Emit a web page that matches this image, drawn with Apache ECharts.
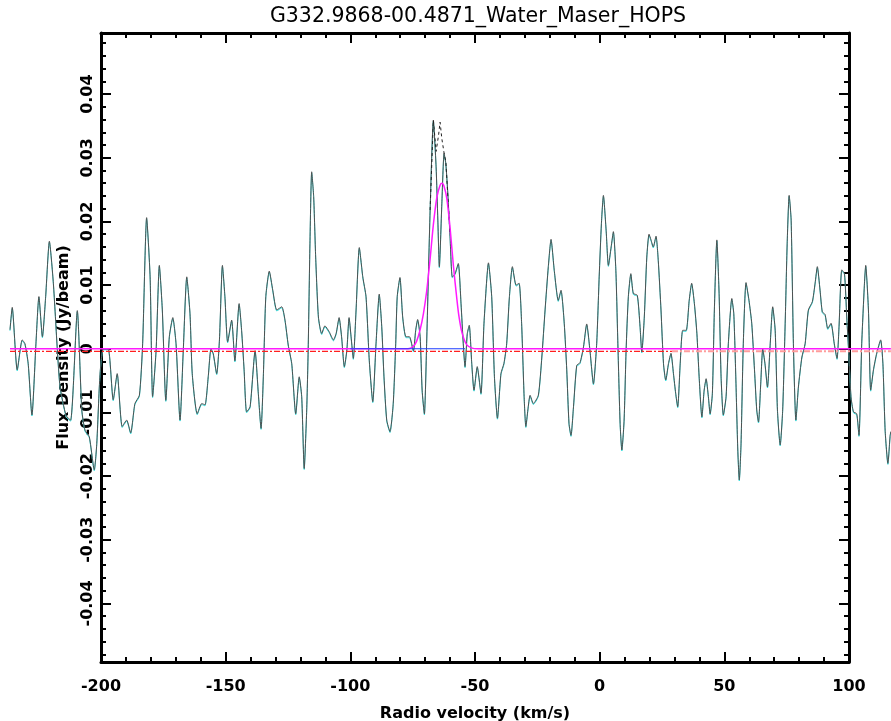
<!DOCTYPE html>
<html><head><meta charset="utf-8">
<script src="https://cdn.jsdelivr.net/npm/echarts@6.0.0/dist/echarts.min.js"></script>
<style>html,body{margin:0;padding:0;background:#fff}#chart{width:891px;height:721px}</style>
</head><body><div id="chart"></div>
<script>
// ---- Data ----
const titleText = 'G332.9868-00.4871_Water_Maser_HOPS';
const xName = 'Radio velocity (km/s)';
const yName = 'Flux Density (Jy/beam)';
const xTickLabels = ['-200','-150','-100','-50','0','50','100'];
const yTickValues = [-0.04,-0.03,-0.02,-0.01,0,0.01,0.02,0.03,0.04];
const yTickLabels = ['-0.04','-0.03','-0.02','-0.01','0','0.01','0.02','0.03','0.04'];
const xRange = [-200, 100];
const yRange = [-0.0492, 0.0496];

// Observed spectrum (km/s, Jy/beam)
const velocity = [
-236.5,-235.6,-233.6,-231.6,-230.5,-229.2,-227.7,-226.1,-224.9,-223.5,-222.2,-220.7,-219.1,-217.5,-216.4,-214.0,-212.2,-209.5,-207.7,-206.4,
-204.7,-202.7,-201.7,-200.4,-199.1,-197.1,-195.1,-193.5,-191.5,-189.7,-188.1,-186.4,-184.6,-183.3,-181.7,-180.3,-179.3,-177.9,-176.6,-175.4,
-174.0,-172.6,-171.2,-169.9,-168.3,-167.0,-165.6,-164.3,-163.4,-161.4,-159.6,-158.3,-157.0,-155.9,-155.0,-153.6,-152.5,-151.3,-150.3,-149.2,
-147.6,-146.3,-144.6,-143.6,-142.6,-141.6,-140.2,-138.2,-136.9,-135.8,-134.9,-133.9,-132.5,-131.1,-129.5,-127.5,-126.2,-124.9,-123.5,-121.9,
-120.5,-119.5,-118.5,-117.5,-116.9,-116.2,-115.5,-114.7,-113.9,-112.8,-111.5,-110.2,-108.5,-106.8,-105.7,-104.5,-103.5,-102.4,-101.4,-100.5,
-99.7,-98.8,-97.7,-96.4,-95.0,-93.7,-92.4,-91.0,-89.7,-88.4,-87.4,-86.5,-85.4,-84.1,-82.8,-81.8,-81.2,-80.1,-79.0,-77.7,
-76.3,-74.7,-73.8,-73.0,-72.0,-71.2,-70.3,-69.4,-68.0,-66.7,-65.6,-64.9,-64.3,-63.3,-62.4,-61.7,-60.9,-60.0,-59.1,-58.0,
-56.7,-55.6,-54.7,-54.0,-53.1,-52.3,-51.3,-50.4,-49.1,-47.6,-46.4,-44.6,-43.3,-42.2,-41.0,-39.6,-38.4,-37.3,-36.2,-35.0,
-33.5,-32.3,-31.3,-30.3,-29.6,-28.8,-27.9,-26.6,-24.6,-23.2,-21.9,-20.6,-19.5,-18.2,-16.6,-15.5,-14.2,-13.2,-12.3,-11.5,
-10.5,-9.2,-7.9,-6.5,-5.2,-3.9,-2.5,-1.2,-0.2,0.7,1.5,2.6,3.5,4.6,5.5,6.5,7.3,8.2,8.9,9.8,
10.6,11.5,12.5,13.5,15.1,16.2,16.9,17.9,18.9,19.8,20.6,21.5,22.6,23.5,24.6,25.6,26.5,27.6,28.6,29.6,
30.5,31.3,32.3,33.3,34.7,35.9,36.9,38.0,39.0,39.9,41.0,41.9,42.7,43.6,44.3,45.2,46.0,47.0,47.9,48.7,
49.6,50.7,51.6,53.0,53.8,54.6,55.4,56.0,56.7,57.6,58.7,59.9,61.0,62.1,63.0,63.7,64.6,65.4,66.3,67.3,
68.4,69.4,70.4,71.3,72.4,73.4,74.4,75.2,76.0,76.8,77.7,78.7,79.7,81.1,82.4,83.7,85.3,86.4,87.3,88.4,
89.3,90.4,91.5,92.8,94.1,95.2,96.0,97.1,98.2,99.1,100.0,100.8,101.8,103.1,104.0,105.1,106.2,106.7,107.8,108.7,
109.8,111.1,112.7,113.6,114.5,115.6,116.5,116.8
];
const flux = [
0.003,0.0065,-0.0033,0.0014,0.0008,-0.0023,-0.0104,0.0008,0.0082,0.0019,0.0082,0.0169,0.0103,-0.0002,-0.006,-0.0105,-0.0112,0.006,-0.0096,-0.0128,
-0.0138,-0.019,-0.0149,-0.004,0,0,-0.008,-0.0039,-0.0122,-0.0112,-0.0132,-0.0086,-0.0073,0.0008,0.0206,0.0113,-0.0075,-0.0002,0.0131,0.0061,
-0.0081,0.0019,0.0049,0.0008,-0.0112,-0.0002,0.0113,0.0055,-0.0039,-0.0102,-0.0086,-0.0088,-0.0044,0,-0.0007,-0.0039,0.0014,0.0131,0.0082,0.0011,
0.0045,-0.0019,0.0071,0.0029,-0.0033,-0.0099,-0.0091,-0.0003,-0.007,-0.0125,-0.0044,0.0082,0.0122,0.0092,0.0061,0.0066,0.0045,0.0006,-0.0023,-0.0102,
-0.0044,-0.0075,-0.0188,-0.0096,0,0.0165,0.0278,0.0239,0.0144,0.005,0.0024,0.0036,0.0027,0.0014,0.0024,0.0049,0.0019,-0.0028,-0.0002,0.0049,
0.0019,-0.0015,0.0061,0.0159,0.0113,0.0082,-0.0018,-0.0083,0.0008,0.0086,0.0035,-0.0044,-0.0112,-0.013,-0.0086,0.0008,0.0082,0.0112,0.005,0.0019,
0.0019,-0.0003,0.0029,0.0046,0.0019,-0.0065,-0.0102,0.0008,0.0218,0.0359,0.0286,0.0202,0.0129,0.0228,0.0307,0.0291,0.0244,0.0176,0.0113,0.0118,
0.0134,0.0071,0.0008,-0.0028,0.0024,0.0037,-0.0023,-0.0065,-0.0028,-0.007,0.004,0.0135,0.0082,-0.0044,-0.0109,-0.0039,-0.0023,0.0008,0.0082,0.0129,
0.01,0.0103,0.004,-0.0075,-0.0122,-0.0096,-0.0073,-0.0086,-0.0073,-0.0013,0.0061,0.0129,0.0172,0.0123,0.0076,0.0092,0.004,-0.0033,-0.0117,-0.0136,
-0.0091,-0.0026,-0.0022,0.0003,0.0039,-0.0002,-0.0055,0.0008,0.0113,0.0197,0.0241,0.0186,0.0131,0.016,0.0184,0.0123,0.0008,-0.0117,-0.0159,-0.0112,
-0.0002,0.0082,0.0118,0.0087,0.0084,0.0035,-0.0005,0.005,0.0144,0.018,0.0171,0.016,0.0177,0.0139,0.0061,-0.0023,-0.0049,-0.0023,-0.0007,-0.0039,
-0.007,-0.0091,-0.0023,0.0029,0.0029,0.0076,0.0103,0.0071,0.0024,-0.0044,-0.0107,-0.0065,-0.0047,-0.0075,-0.0102,-0.007,0.0061,0.0171,0.0087,-0.0044,
-0.0104,-0.0075,0.0008,0.0079,0.0055,-0.0044,-0.0159,-0.0206,-0.0149,0.0008,0.0104,0.0076,0.004,-0.0033,-0.0096,-0.0115,-0.0054,0,-0.0023,-0.006,
0.0008,0.0066,0.0029,-0.0096,-0.0151,-0.0096,0.004,0.0165,0.0241,0.0202,0.0008,-0.0112,-0.006,-0.0013,0.0008,0.0061,0.0074,0.0103,0.0129,0.0092,
0.0058,0.0054,0.0032,0.004,0.0008,-0.0015,0.0035,0.0124,0.0118,0.005,-0.0013,-0.0075,-0.0099,-0.0102,-0.0136,0.0008,0.0103,0.0131,0.0061,-0.0065,
-0.0033,-0.0007,0.0014,-0.0023,-0.0128,-0.018,-0.0136,-0.013
];

// Dashed (unsmoothed) spectrum near the peak
const peakVelocity = [-68.0,-66.7,-65.6,-64.6,-64.0,-63.3,-62.3,-61.7,-61.2,-60.6,-60.0];
const peakFlux     = [0.0218,0.0359,0.031,0.0336,0.0356,0.033,0.0305,0.0294,0.026,0.022,0.018];

// Gaussian fit (magenta)
const fitVelocity = [-236.5,-76.9,-74.7,-73.4,-72.0,-70.7,-69.4,-68.0,-66.7,-65.3,-64.0,-63.2,-62.4,-61.3,-60.0,-58.7,-57.3,-56.4,-55.2,-53.3,-51.2,-49.0,116.8];
const fitFlux     = [0,0,0.0004,0.0012,0.003,0.0055,0.009,0.0141,0.0195,0.0238,0.0257,0.026,0.0255,0.0236,0.019,0.0132,0.0079,0.005,0.0025,0.0006,0.0001,0,0];

// Baseline window (blue)
const baseVelocity = [-100.0,-54.0];
const baseFlux = [0,0];

// Dash-dot reference levels
const redVelocity = [-236.5, 29.0];
const redFlux = [-0.0004, -0.0004];
const pinkVelocity = [29.0, 116.8];
const pinkFlux = [-0.0004, -0.0004];

function pairs(xs, ys){ return xs.map((x,i)=>[x, ys[i]]); }

// ---- layout ----
const W = 891;
const PLOT = {left:101, right:42, top:33, bottom:59};
const pxPerUnit = (W - PLOT.left - PLOT.right) / (xRange[1] - xRange[0]);
// data grid spans the whole canvas width with the same km/s scale, so the
// spectrum can run past the frame like in the reference
const dataX = [xRange[0] - PLOT.left / pxPerUnit, xRange[1] + PLOT.right / pxPerUnit];

// minor ticks: 5 subdivisions of each major step
const yStep = yTickValues[1]-yTickValues[0];
const yMinor = [];
for (let i = -1; i < yTickValues.length; i++) {
  const base = i < 0 ? yTickValues[0]-yStep : yTickValues[i];
  for (let k = 1; k < 5; k++) {
    const v = +(base + k*yStep/5).toFixed(4);
    if (v > yRange[0] && v < yRange[1]) yMinor.push(v);
  }
}

const FONT = 'DejaVu Sans';
const chart = echarts.init(document.getElementById('chart'), null, {renderer:'canvas'});

const hiddenX = (g)=>({type:'value', gridIndex:g, min:dataX[0], max:dataX[1], show:false, axisLine:{onZero:false}});
const hiddenY = (g)=>({type:'value', gridIndex:g, min:yRange[0], max:yRange[1], show:false, axisLine:{onZero:false}});

const lineBase = {type:'line', showSymbol:false, symbol:'none', clip:false, silent:true, smooth:false};

chart.setOption({
  animation:false,
  backgroundColor:'#ffffff',
  title:{
    text:titleText, left:473, top:1, textAlign:'center',
    textStyle:{fontFamily:FONT, fontSize:20.5, fontWeight:'normal', color:'#000'}
  },
  grid:[
    {left:PLOT.left, right:PLOT.right, top:PLOT.top, bottom:PLOT.bottom, containLabel:false, outerBoundsMode:'none'},
    {left:0, right:0, top:PLOT.top, bottom:PLOT.bottom, containLabel:false, outerBoundsMode:'none'},
    {left:0, right:0, top:PLOT.top+1, bottom:PLOT.bottom-1, containLabel:false, outerBoundsMode:'none'}
  ],
  xAxis:[
    {type:'value', gridIndex:0, position:'bottom', min:xRange[0], max:xRange[1], interval:50,
     axisLine:{show:true, onZero:false, lineStyle:{color:'#000', width:3}},
     axisTick:{show:true, inside:true, length:10, lineStyle:{color:'#000', width:2}},
     minorTick:{show:true, splitNumber:5, length:5, lineStyle:{color:'#000', width:2}},
     splitLine:{show:false},
     axisLabel:{show:true, margin:17, color:'#000', fontFamily:FONT, fontSize:16, fontWeight:'bold',
       formatter:(v)=>{const i=Math.round((v-xRange[0])/50); return xTickLabels[i] ?? '';}},
     name:xName, nameLocation:'middle', nameGap:44,
     nameTextStyle:{fontFamily:FONT, fontSize:16, fontWeight:'bold', color:'#000'}},
    {type:'value', gridIndex:0, position:'top', min:xRange[0], max:xRange[1], interval:50,
     axisLine:{show:true, onZero:false, lineStyle:{color:'#000', width:3}},
     axisTick:{show:true, inside:true, length:10, lineStyle:{color:'#000', width:2}},
     minorTick:{show:true, splitNumber:5, length:5, lineStyle:{color:'#000', width:2}},
     splitLine:{show:false}, axisLabel:{show:false}},
    hiddenX(1),
    hiddenX(2)
  ],
  yAxis:[
    {type:'value', gridIndex:0, position:'left', min:yRange[0], max:yRange[1],
     axisLine:{show:true, onZero:false, lineStyle:{color:'#000', width:3}},
     axisTick:{show:true, inside:true, length:10, customValues:yTickValues, lineStyle:{color:'#000', width:2}},
     splitLine:{show:false},
     axisLabel:{show:true, customValues:yTickValues, rotate:90, margin:5, color:'#000',
       fontFamily:FONT, fontSize:16, fontWeight:'bold',
       formatter:(v)=>{const i=yTickValues.findIndex(t=>Math.abs(t-v)<1e-9); return i>=0?yTickLabels[i]:'';}},
     name:yName, nameLocation:'middle', nameGap:29,
     nameTextStyle:{fontFamily:FONT, fontSize:16, fontWeight:'bold', color:'#000'}},
    {type:'value', gridIndex:0, position:'right', min:yRange[0], max:yRange[1],
     axisLine:{show:true, onZero:false, lineStyle:{color:'#000', width:3}},
     axisTick:{show:true, inside:true, length:10, customValues:yTickValues, lineStyle:{color:'#000', width:2}},
     splitLine:{show:false}, axisLabel:{show:false}},
    {type:'value', gridIndex:0, position:'left', min:yRange[0], max:yRange[1],
     axisLine:{show:false, onZero:false},
     axisTick:{show:true, inside:true, length:5, customValues:yMinor, lineStyle:{color:'#000', width:2}},
     splitLine:{show:false}, axisLabel:{show:false}},
    {type:'value', gridIndex:0, position:'right', min:yRange[0], max:yRange[1],
     axisLine:{show:false, onZero:false},
     axisTick:{show:true, inside:true, length:5, customValues:yMinor, lineStyle:{color:'#000', width:2}},
     splitLine:{show:false}, axisLabel:{show:false}},
    hiddenY(1),
    hiddenY(2)
  ],
  series:[
    Object.assign({}, lineBase, {name:'cyan', xAxisIndex:3, yAxisIndex:5, data:pairs(velocity, flux),
     smooth:0.2, lineStyle:{color:'#22dada', width:1}, z:1}),
    Object.assign({}, lineBase, {name:'spectrum', xAxisIndex:2, yAxisIndex:4, data:pairs(velocity, flux),
     smooth:0.2, lineStyle:{color:'#505050', width:1}, z:2}),
    Object.assign({}, lineBase, {name:'raw peak', xAxisIndex:2, yAxisIndex:4, data:pairs(peakVelocity, peakFlux),
     lineStyle:{color:'#222', width:1, type:[3,3]}, z:3}),
    Object.assign({}, lineBase, {name:'red level', xAxisIndex:2, yAxisIndex:4, data:pairs(redVelocity, redFlux),
     lineStyle:{color:'#ff2020', width:1.2, type:[6,2,2,2]}, z:4}),
    Object.assign({}, lineBase, {name:'pink level', xAxisIndex:2, yAxisIndex:4, data:pairs(pinkVelocity, pinkFlux),
     lineStyle:{color:'#ff9c9c', width:2, type:[6,2,2,2]}, z:4}),
    Object.assign({}, lineBase, {name:'fit', xAxisIndex:2, yAxisIndex:4, data:pairs(fitVelocity, fitFlux),
     smooth:0.3, lineStyle:{color:'#ff1aff', width:1.5}, z:5}),
    Object.assign({}, lineBase, {name:'baseline', xAxisIndex:2, yAxisIndex:4, data:pairs(baseVelocity, baseFlux),
     lineStyle:{color:'#1f3cff', width:1.2}, z:6})
  ]
});
</script></body></html>
